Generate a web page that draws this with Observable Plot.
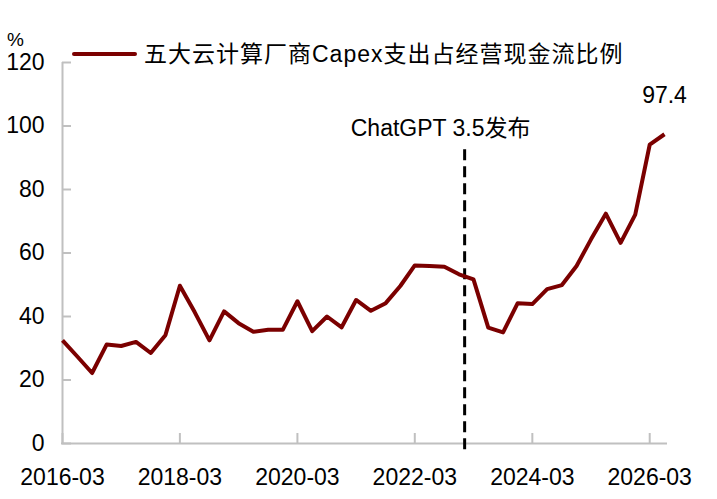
<!DOCTYPE html>
<html><head><meta charset="utf-8">
<script src="https://cdn.jsdelivr.net/npm/d3@7"></script>
<script src="https://cdn.jsdelivr.net/npm/@observablehq/plot@0.6"></script>
<style>
html,body{margin:0;padding:0;background:#fff;}
#wrap{position:relative;width:717px;height:499px;font-family:"Liberation Sans",Arial,"Noto Sans CJK SC",sans-serif;color:#000;}
#legend{position:absolute;left:72px;top:39px;height:30px;display:flex;align-items:center;font-size:23px;letter-spacing:1px;line-height:30px;}
#legend .sw{display:inline-block;width:65px;height:4px;background:#7b0000;margin-right:7px;border-radius:2px;}
#unit{position:absolute;left:7px;top:30px;font-size:19px;line-height:1;}
</style></head>
<body>
<div id="wrap"><div id="chart"></div><div id="unit">%</div><div id="legend"><span class="sw"></span><span>五大云计算厂商Capex支出占经营现金流比例</span></div></div>
<script>
const quarters = [
  "2016-03","2016-06","2016-09","2016-12",
  "2017-03","2017-06","2017-09","2017-12",
  "2018-03","2018-06","2018-09","2018-12",
  "2019-03","2019-06","2019-09","2019-12",
  "2020-03","2020-06","2020-09","2020-12",
  "2021-03","2021-06","2021-09","2021-12",
  "2022-03","2022-06","2022-09","2022-12",
  "2023-03","2023-06","2023-09","2023-12",
  "2024-03","2024-06","2024-09","2024-12",
  "2025-03","2025-06","2025-09","2025-12",
  "2026-03","2026-06"
];
const ratio = [
  32.5, 27.4, 22.2, 31.2,
  30.7, 32.0, 28.5, 34.1,
  49.7, 41.4, 32.5, 41.6,
  37.9, 35.2, 35.8, 35.8,
  44.8, 35.4, 40.0, 36.6,
  45.2, 41.8, 44.2, 49.6,
  56.1, 55.9, 55.7, 53.3,
  51.7, 36.5, 35.0, 44.2,
  43.9, 48.6, 49.9, 55.9,
  64.3, 72.4, 63.2, 72.1,
  94.1, 97.4
];
const xTickLabels = ["2016-03","2018-03","2020-03","2022-03","2024-03","2026-03"];
const yTicks = [0, 20, 40, 60, 80, 100, 120];
const eventDate = "2023-01-05";
const eventLabel = "ChatGPT 3.5发布";

const parseQ = d3.utcParse("%Y-%m");
const data = quarters.map((q, i) => ({date: parseQ(q), value: ratio[i]}));
const events = [{date: d3.utcParse("%Y-%m-%d")(eventDate), label: eventLabel}];
const last = data[data.length - 1];
const font = '"Liberation Sans", Arial, "Noto Sans CJK SC", sans-serif';
const axisGray = "#c0c0c0";
const lineColor = "#7b0000";

const chart = Plot.plot({
  width: 717,
  height: 499,
  marginTop: 62,
  marginBottom: 56,
  marginLeft: 62,
  marginRight: 53,
  style: {fontFamily: font, fontSize: "23px", color: "#000", background: "#fff"},
  x: {type: "utc", domain: [data[0].date, last.date]},
  y: {domain: [0, 120]},
  marks: [
    Plot.ruleY([0], {stroke: axisGray, strokeWidth: 2, insetRight: -3, insetLeft: -1}),
    Plot.ruleX([data[0].date], {stroke: axisGray, strokeWidth: 2}),
    Plot.axisY({ticks: yTicks, tickSize: -9, tickPadding: 27, stroke: axisGray, strokeWidth: 2, fill: "#000", fontSize: 23, label: null}),
    Plot.axisX({ticks: xTickLabels.map(parseQ), tickFormat: d3.utcFormat("%Y-%m"), tickSize: -10, tickPadding: 35, stroke: axisGray, strokeWidth: 2, fill: "#000", fontSize: 23, label: null}),
    Plot.ruleX(events, {x: "date", y1: -2, y2: 93.3, stroke: "#000", strokeWidth: 3, strokeDasharray: "11,6"}),
    Plot.text(events, {x: "date", text: "label", frameAnchor: "top", lineAnchor: "bottom", dy: 73, dx: -24, fontSize: 23, fill: "#000"}),
    Plot.lineY(data, {x: "date", y: "value", stroke: lineColor, strokeWidth: 4, strokeLinejoin: "round", strokeLinecap: "butt"}),
    Plot.text([last], {x: "date", y: "value", text: d => d.value.toFixed(1), lineAnchor: "bottom", dy: -31, fontSize: 23, fill: "#000"})
  ]
});
document.getElementById("chart").appendChild(chart);
</script>
</body></html>
